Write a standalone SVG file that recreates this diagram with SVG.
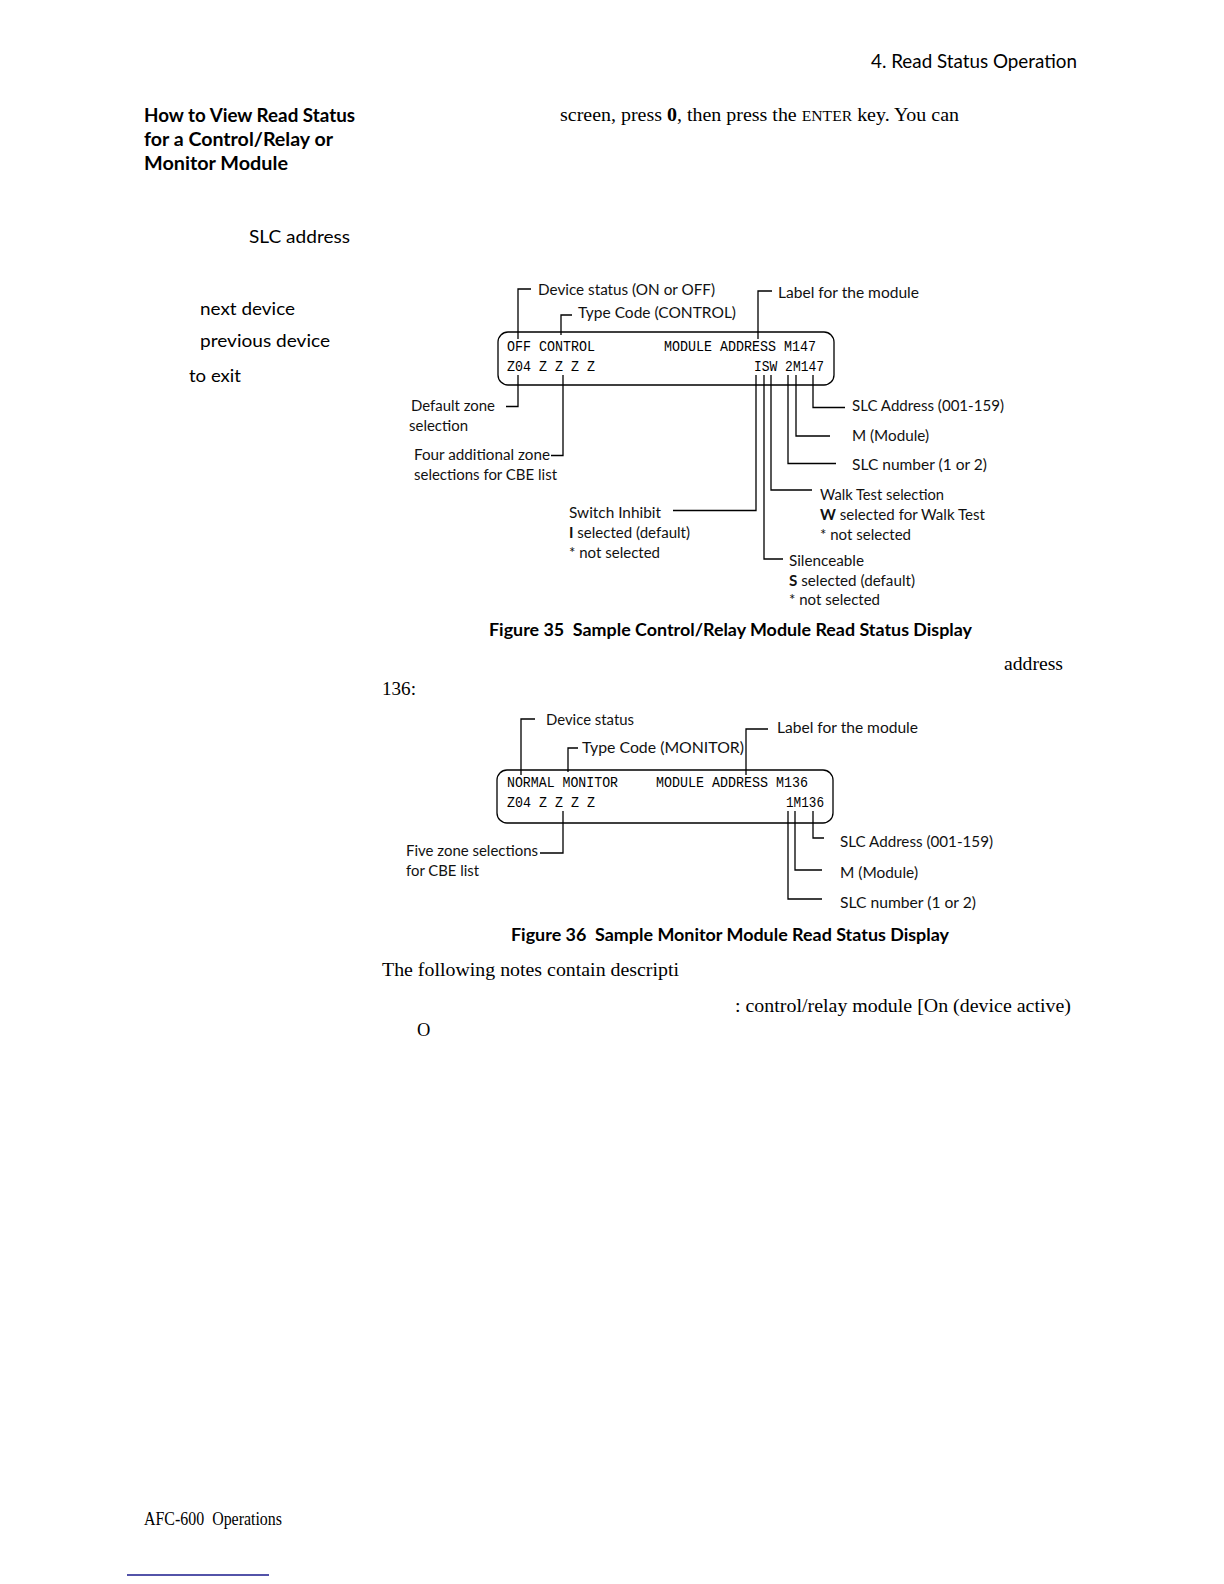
<svg xmlns="http://www.w3.org/2000/svg" width="1224" height="1584" viewBox="0 0 1224 1584">
<style>
.bg{fill:#fff}
.sans{font-family:Lato,"Open Sans","DejaVu Sans",sans-serif;fill:#000}
.lbl{font-family:Lato,"Open Sans","DejaVu Sans",sans-serif;font-size:14.5px;fill:#111}
.cap{font-family:Lato,"Open Sans",sans-serif;font-size:16.5px;font-weight:bold;fill:#000}
.serif{font-family:"Liberation Serif","Times New Roman",serif;font-size:18.5px;fill:#000}
.mono{font-family:"Liberation Mono","Courier New",monospace;font-size:15.5px;fill:#000}
.box{fill:none;stroke:#000;stroke-width:1.3}
.con path{fill:none;stroke:#000;stroke-width:1.3}
</style>
<rect class="bg" x="0" y="0" width="1224" height="1584"/>

<!-- page text -->
<g id="page-text">
  <text class="sans" x="871" y="68" font-size="19" textLength="206" lengthAdjust="spacingAndGlyphs">4. Read Status Operation</text>
  <text class="sans" x="144" y="122" font-size="19" font-weight="bold" textLength="211" lengthAdjust="spacingAndGlyphs">How to View Read Status</text>
  <text class="sans" x="144" y="146" font-size="19" font-weight="bold" textLength="189" lengthAdjust="spacingAndGlyphs">for a Control/Relay or</text>
  <text class="sans" x="144" y="170" font-size="19" font-weight="bold" textLength="144" lengthAdjust="spacingAndGlyphs">Monitor Module</text>
  <text class="serif" x="560" y="121" textLength="399" lengthAdjust="spacingAndGlyphs">screen, press <tspan font-weight="bold">0</tspan>, then press the <tspan font-size="14.5">ENTER</tspan> key. You can</text>
  <text class="sans" x="249" y="243" font-size="18" textLength="101" lengthAdjust="spacingAndGlyphs">SLC address</text>
  <text class="sans" x="200" y="315" font-size="18" textLength="95" lengthAdjust="spacingAndGlyphs">next device</text>
  <text class="sans" x="200" y="347" font-size="18" textLength="130" lengthAdjust="spacingAndGlyphs">previous device</text>
  <text class="sans" x="189" y="382" font-size="18" textLength="52" lengthAdjust="spacingAndGlyphs">to exit</text>
  <text class="serif" x="1004" y="670" textLength="59" lengthAdjust="spacingAndGlyphs">address</text>
  <text class="serif" x="382" y="695" textLength="34" lengthAdjust="spacingAndGlyphs">136:</text>
  <text class="serif" x="382" y="976" textLength="297" lengthAdjust="spacingAndGlyphs">The following notes contain descripti</text>
  <text class="serif" x="735" y="1012" textLength="336" lengthAdjust="spacingAndGlyphs">: control/relay module [On (device active)</text>
  <text class="serif" x="417" y="1036">O</text>
  <text class="serif" x="144" y="1525" font-size="15" textLength="138" lengthAdjust="spacingAndGlyphs">AFC-600&#160; Operations</text>
  <line x1="127" y1="1575" x2="269" y2="1575" stroke="#1a1a8c" stroke-width="1.3"/>
</g>

<!-- Figure 35 display -->
<g id="fig35-display">
  <rect class="box" x="498" y="332" width="336" height="53" rx="10" ry="10"/>
  <text class="mono" x="507" y="351" textLength="88" lengthAdjust="spacingAndGlyphs">OFF CONTROL</text>
  <text class="mono" x="664" y="351" textLength="152" lengthAdjust="spacingAndGlyphs">MODULE ADDRESS M147</text>
  <text class="mono" x="507" y="371" textLength="88" lengthAdjust="spacingAndGlyphs">Z04 Z Z Z Z</text>
  <text class="mono" x="754" y="371" textLength="70" lengthAdjust="spacingAndGlyphs">ISW 2M147</text>
</g>
<g id="fig35-device-status"><text class="lbl" x="538" y="295" textLength="177" lengthAdjust="spacingAndGlyphs">Device status (ON or OFF)</text></g>
<g id="fig35-type-code"><text class="lbl" x="578" y="318" textLength="158" lengthAdjust="spacingAndGlyphs">Type Code (CONTROL)</text></g>
<g id="fig35-label"><text class="lbl" x="778" y="298" textLength="141" lengthAdjust="spacingAndGlyphs">Label for the module</text></g>
<g id="fig35-default-zone">
  <text class="lbl" x="411" y="411" textLength="84" lengthAdjust="spacingAndGlyphs">Default zone</text>
  <text class="lbl" x="409" y="431" textLength="59" lengthAdjust="spacingAndGlyphs">selection</text>
</g>
<g id="fig35-four-zones">
  <text class="lbl" x="414" y="460" textLength="136" lengthAdjust="spacingAndGlyphs">Four additional zone</text>
  <text class="lbl" x="414" y="480" textLength="143" lengthAdjust="spacingAndGlyphs">selections for CBE list</text>
</g>
<g id="fig35-switch-inhibit">
  <text class="lbl" x="569" y="518" textLength="92" lengthAdjust="spacingAndGlyphs">Switch Inhibit</text>
  <text class="lbl" x="569" y="538" textLength="121" lengthAdjust="spacingAndGlyphs"><tspan font-weight="bold">I</tspan> selected (default)</text>
  <text class="lbl" x="569" y="558" textLength="91" lengthAdjust="spacingAndGlyphs">* not selected</text>
</g>
<g id="fig35-walk-test">
  <text class="lbl" x="820" y="500" textLength="124" lengthAdjust="spacingAndGlyphs">Walk Test selection</text>
  <text class="lbl" x="820" y="520" textLength="165" lengthAdjust="spacingAndGlyphs"><tspan font-weight="bold">W</tspan> selected for Walk Test</text>
  <text class="lbl" x="820" y="540" textLength="91" lengthAdjust="spacingAndGlyphs">* not selected</text>
</g>
<g id="fig35-silenceable">
  <text class="lbl" x="789" y="566" textLength="75" lengthAdjust="spacingAndGlyphs">Silenceable</text>
  <text class="lbl" x="789" y="586" textLength="126" lengthAdjust="spacingAndGlyphs"><tspan font-weight="bold">S</tspan> selected (default)</text>
  <text class="lbl" x="789" y="605" textLength="91" lengthAdjust="spacingAndGlyphs">* not selected</text>
</g>
<g id="fig35-slc-address"><text class="lbl" x="852" y="411" textLength="152" lengthAdjust="spacingAndGlyphs">SLC Address (001-159)</text></g>
<g id="fig35-module"><text class="lbl" x="852" y="441" textLength="77" lengthAdjust="spacingAndGlyphs">M (Module)</text></g>
<g id="fig35-slc-number"><text class="lbl" x="852" y="470" textLength="135" lengthAdjust="spacingAndGlyphs">SLC number (1 or 2)</text></g>
<g id="fig35-caption"><text class="cap" x="489" y="636" textLength="483" lengthAdjust="spacingAndGlyphs">Figure 35&#160; Sample Control/Relay Module Read Status Display</text></g>

<!-- Figure 36 display -->
<g id="fig36-display">
  <rect class="box" x="497" y="770" width="336" height="53" rx="10" ry="10"/>
  <text class="mono" x="507" y="787" textLength="111" lengthAdjust="spacingAndGlyphs">NORMAL MONITOR</text>
  <text class="mono" x="656" y="787" textLength="152" lengthAdjust="spacingAndGlyphs">MODULE ADDRESS M136</text>
  <text class="mono" x="507" y="807" textLength="88" lengthAdjust="spacingAndGlyphs">Z04 Z Z Z Z</text>
  <text class="mono" x="786" y="807" textLength="38" lengthAdjust="spacingAndGlyphs">1M136</text>
</g>
<g id="fig36-device-status"><text class="lbl" x="546" y="725" textLength="88" lengthAdjust="spacingAndGlyphs">Device status</text></g>
<g id="fig36-type-code"><text class="lbl" x="582" y="753" textLength="162" lengthAdjust="spacingAndGlyphs">Type Code (MONITOR)</text></g>
<g id="fig36-label"><text class="lbl" x="777" y="733" textLength="141" lengthAdjust="spacingAndGlyphs">Label for the module</text></g>
<g id="fig36-five-zones">
  <text class="lbl" x="406" y="856" textLength="132" lengthAdjust="spacingAndGlyphs">Five zone selections</text>
  <text class="lbl" x="406" y="876" textLength="73" lengthAdjust="spacingAndGlyphs">for CBE list</text>
</g>
<g id="fig36-slc-address"><text class="lbl" x="840" y="847" textLength="153" lengthAdjust="spacingAndGlyphs">SLC Address (001-159)</text></g>
<g id="fig36-module"><text class="lbl" x="840" y="878" textLength="78" lengthAdjust="spacingAndGlyphs">M (Module)</text></g>
<g id="fig36-slc-number"><text class="lbl" x="840" y="908" textLength="136" lengthAdjust="spacingAndGlyphs">SLC number (1 or 2)</text></g>
<g id="fig36-caption"><text class="cap" x="511" y="941" textLength="438" lengthAdjust="spacingAndGlyphs">Figure 36&#160; Sample Monitor Module Read Status Display</text></g>

<!-- connectors -->
<g id="connectors" class="con">
  <path d="M518,339 V289 H531"/>
  <path d="M561,335 V315 H572"/>
  <path d="M758,339 V291 H772"/>
  <path d="M518,375 V406.5 H506"/>
  <path d="M563,375 V455.5 H551"/>
  <path d="M756,375 V510.5 H673"/>
  <path d="M764,375 V559 H783"/>
  <path d="M771,375 V490 H812"/>
  <path d="M788,375 V463.5 H836"/>
  <path d="M796,375 V436 H830"/>
  <path d="M813,375 V407.5 H845"/>

  <path d="M521,775 V719 H535"/>
  <path d="M568,772 V748 H578"/>
  <path d="M746,775 V729 H768"/>
  <path d="M563,811 V853 H540"/>
  <path d="M813,811 V838 H824"/>
  <path d="M795,811 V870 H822"/>
  <path d="M788,811 V899 H822"/>
</g>
</svg>
